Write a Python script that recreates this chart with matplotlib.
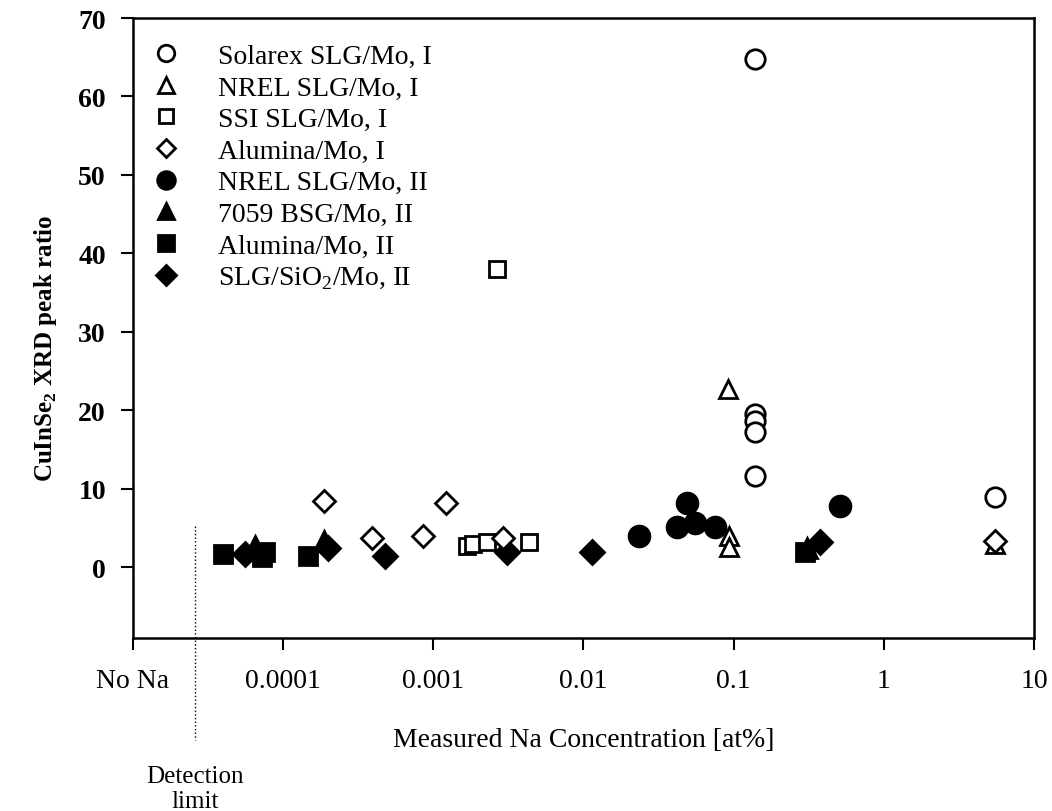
import numpy as np
import matplotlib
matplotlib.use("Agg")
import matplotlib.pyplot as plt
import matplotlib.transforms as mtransforms

plt.rcParams['font.family'] = ['Liberation Serif', 'DejaVu Serif']
plt.rcParams['mathtext.fontset'] = 'custom'
plt.rcParams['mathtext.rm'] = 'Liberation Serif'
plt.rcParams['mathtext.bf'] = 'Liberation Serif:bold'

# data (x in at%, y = peak ratio)
solarex_x = [0.138, 0.138, 0.138, 0.138, 0.138, 5.5]
solarex_y = [64.8, 19.5, 18.6, 17.2, 11.7, 8.9]

nrel1_x = [0.092, 0.093, 0.093, 5.5]
nrel1_y = [22.7, 4.0, 2.6, 3.0]

ssi_x = [0.00168, 0.00184, 0.00228, 0.00265, 0.00433]
ssi_y = [2.7, 3.0, 3.2, 38.0, 3.2]

alum1_x = [0.000187, 0.00039, 0.000853, 0.00121, 0.0029, 5.5]
alum1_y = [8.5, 3.8, 4.0, 8.2, 3.7, 3.3]

nrel2_x = [0.0234, 0.0419, 0.0488, 0.0552, 0.075, 0.509]
nrel2_y = [4.0, 5.1, 8.2, 5.6, 5.2, 7.8]

bsg_x = [6.5e-5, 1.87e-4, 0.31]
bsg_y = [2.7, 3.3, 2.4]

alum2_x = [3.97e-5, 7.2e-5, 7.57e-5, 1.46e-4, 0.298]
alum2_y = [1.7, 1.3, 1.9, 1.4, 2.0]

sio2_x = [5.57e-5, 1.99e-4, 4.77e-4, 0.00309, 0.0114, 0.375]
sio2_y = [1.7, 2.5, 1.4, 1.9, 2.0, 3.2]

xticks = [1e-5, 1e-4, 1e-3, 1e-2, 1e-1, 1, 10]
xtick_labels = ['No Na', '0.0001', '0.001', '0.01', '0.1', '1', '10']
yticks = [0, 10, 20, 30, 40, 50, 60, 70]
detection_limit = 2.6e-5

fig = plt.figure(figsize=(10.52, 8.12), dpi=100)
ax = fig.add_axes([0.1264, 0.2131, 0.8565, 0.7635])

series = [
    # label, x, y, marker, size, filled
    ('Solarex SLG/Mo, I', solarex_x, solarex_y, 'o', 14, False),
    ('NREL SLG/Mo, I', nrel1_x, nrel1_y, '^', 13, False),
    ('SSI SLG/Mo, I', ssi_x, ssi_y, 's', 12, False),
    ('Alumina/Mo, I', alum1_x, alum1_y, 'D', 11, False),
    ('NREL SLG/Mo, II', nrel2_x, nrel2_y, 'o', 15, True),
    ('7059 BSG/Mo, II', bsg_x, bsg_y, '^', 14, True),
    ('Alumina/Mo, II', alum2_x, alum2_y, 's', 13, True),
    ('SLG/SiO$_2$/Mo, II', sio2_x, sio2_y, 'D', 12, True),
]

for label, xs, ys, mk, ms, filled in series:
    ax.plot(xs, ys, linestyle='none', marker=mk, markersize=ms,
            markerfacecolor='black' if filled else 'white',
            markeredgecolor='black', markeredgewidth=2.0,
            label=label, zorder=2 if filled else 3, clip_on=False)

ax.set_xscale('log')
ax.set_xlim(1e-5, 10)
ax.set_ylim(-9, 70)
ax.set_xticks(xticks)
ax.set_xticklabels(xtick_labels, fontsize=20)
ax.xaxis.set_minor_locator(matplotlib.ticker.NullLocator())
ax.set_yticks(yticks)
ax.set_yticklabels([str(v) for v in yticks], fontsize=20, fontweight='bold')
ax.tick_params(axis='both', direction='out', length=8.5, width=1.5,
               top=False, right=False)
ax.tick_params(axis='x', pad=13)
ax.tick_params(axis='y', pad=11)
for sp in ax.spines.values():
    sp.set_linewidth(1.8)

ax.set_xlabel('Measured Na Concentration [at%]', fontsize=20, va='center')
ax.xaxis.set_label_coords(0.5, -0.163)
ax.set_ylabel('CuInSe$_\\mathbf{2}$ XRD peak ratio', fontsize=18,
              fontweight='bold', va='center', ha='center')
ax.yaxis.set_label_coords(-0.097, 0.468)

# detection limit dotted line, crossing below the axis
trans = mtransforms.blended_transform_factory(ax.transData, ax.transAxes)
ax.plot([detection_limit, detection_limit], [0.18, -0.165], transform=trans,
        color='black', linestyle=':', linewidth=1.0, clip_on=False)
ax.text(detection_limit, -0.205, 'Detection\nlimit', transform=trans,
        ha='center', va='top', fontsize=18, linespacing=1.2)

leg = ax.legend(loc='upper left', bbox_to_anchor=(0.0, 0.99), frameon=False,
                fontsize=20, markerscale=0.85, handlelength=1.0,
                handletextpad=1.36, labelspacing=0.22, borderaxespad=0.3)

fig.savefig('out.png', dpi=100)
